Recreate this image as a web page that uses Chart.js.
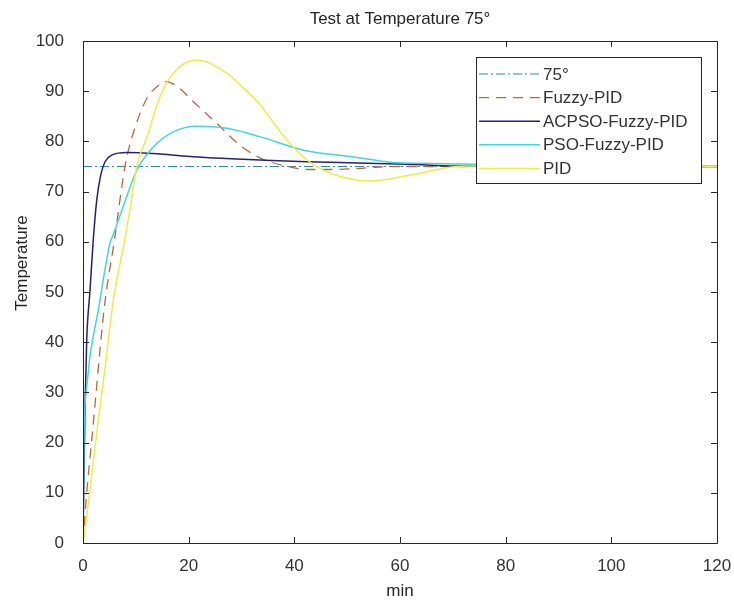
<!DOCTYPE html>
<html>
<head>
<meta charset="utf-8">
<script src="https://cdn.jsdelivr.net/npm/chart.js@4/dist/chart.umd.min.js"></script>
<style>
  html, body { margin: 0; padding: 0; background: #fff; }
  #wrap { width: 734px; height: 603px; }
</style>
</head>
<body>
<div id="wrap"><canvas id="chart" width="734" height="603"></canvas></div>
<script>
// --- DATA ---
const chartTitle = 'Test at Temperature 75°';
const xTitle = 'min';
const yTitle = 'Temperature';
const seriesNames = ['75°', 'Fuzzy-PID', 'ACPSO-Fuzzy-PID', 'PSO-Fuzzy-PID', 'PID'];

const refT = [0, 120];
const refY = [75, 75];

const fuzzyT = [0, 0.7, 1.6, 2.4, 3.2, 4.2, 5.9, 8, 9.9, 12.1, 14, 15.7, 17.5, 20.9, 25.3, 30.1, 34, 38, 42.7, 47, 52, 56, 60, 120];
const fuzzyY = [0, 10, 19.9, 29, 38.4, 48.4, 60, 75.3, 82.9, 88.6, 90.9, 91.9, 91.2, 87.9, 83.6, 78.9, 76.5, 75.2, 74.4, 74.4, 74.6, 74.9, 75, 75];

const acpsoT = [0, 0.06, 0.38, 0.7, 1.33, 1.95, 2.6, 3.3, 4.2, 5.5, 8.3, 14.6, 20.9, 27, 33.6, 42.4, 52, 63.2, 70, 120];
const acpsoY = [0, 4.6, 27, 40.4, 50.4, 60.5, 68.3, 73, 76, 77.3, 77.8, 77.5, 76.95, 76.6, 76.3, 75.95, 75.7, 75.4, 75.1, 75];

const psoT = [0, 0.2, 0.6, 1.0, 1.3, 2.0, 2.9, 4.0, 5.1, 5.75, 7.6, 10.2, 13.3, 17.1, 21.5, 27.2, 33.6, 42, 50.6, 58.8, 66, 72.7, 80, 120];
const psoY = [0, 22, 30, 34, 37, 41.5, 46.4, 53.5, 59.7, 61.5, 67, 74.3, 78.9, 81.9, 83, 82.6, 80.9, 78.2, 77, 75.8, 75.6, 75.5, 75.1, 75];

const pidT = [0, 0.7, 2.6, 4.2, 5.75, 8, 8.9, 10.2, 12.1, 14.6, 17.1, 21.5, 27.2, 30, 33.6, 36, 38.6, 42.4, 47, 54.4, 62, 70.8, 80, 120];
const pidY = [0, 5.2, 21.9, 35.1, 48.4, 61, 66.5, 75.2, 80.9, 88.9, 93.6, 96.2, 93.6, 91, 87.2, 83.8, 80.3, 76.3, 73.6, 72.1, 73.3, 75, 75.2, 75];

const xTicks = [0, 20, 40, 60, 80, 100, 120];
const yTicks = [0, 10, 20, 30, 40, 50, 60, 70, 80, 90, 100];

const zip = (t, y) => t.map((v, i) => ({ x: v, y: y[i] }));

const textColor = '#333333';
const axisColor = '#262626';
const fontFamily = "'Liberation Sans', Arial, sans-serif";

const datasets = [
    { label: seriesNames[0], data: zip(refT, refY), borderColor: '#2a8ea3', borderWidth: 1.2, borderDash: [9, 3, 2, 3], order: 5 },
    { label: seriesNames[1], data: zip(fuzzyT, fuzzyY), borderColor: '#b8693c', borderWidth: 1.3, borderDash: [10, 7], order: 4 },
    { label: seriesNames[2], data: zip(acpsoT, acpsoY), borderColor: '#24246e', borderWidth: 1.5, order: 3 },
    { label: seriesNames[3], data: zip(psoT, psoY), borderColor: '#3fd8dc', borderWidth: 1.5, order: 2 },
    { label: seriesNames[4], data: zip(pidT, pidY), borderColor: '#eded45', borderWidth: 1.5, order: 1 }
];
datasets.forEach(d => {
    d.pointRadius = 0;
    d.fill = false;
    d.cubicInterpolationMode = 'monotone';
});

// MATLAB style box with inward ticks, plus title and y label
const boxPlugin = {
    id: 'matlabBox',
    afterDatasetsDraw(chart) {
        const { ctx, chartArea: a, scales } = chart;
        const len = 6;
        ctx.save();
        ctx.strokeStyle = axisColor;
        ctx.lineWidth = 1;
        ctx.beginPath();
        ctx.rect(Math.round(a.left) + 0.5, Math.round(a.top) + 0.5, Math.round(a.right - a.left), Math.round(a.bottom - a.top));
        xTicks.forEach(v => {
            const px = Math.round(scales.x.getPixelForValue(v)) + 0.5;
            ctx.moveTo(px, a.bottom); ctx.lineTo(px, a.bottom - len);
            ctx.moveTo(px, a.top); ctx.lineTo(px, a.top + len);
        });
        yTicks.forEach(v => {
            const py = Math.round(scales.y.getPixelForValue(v)) + 0.5;
            ctx.moveTo(a.left, py); ctx.lineTo(a.left + len, py);
            ctx.moveTo(a.right, py); ctx.lineTo(a.right - len, py);
        });
        ctx.stroke();

        ctx.fillStyle = axisColor;
        ctx.textAlign = 'center';
        ctx.textBaseline = 'middle';
        ctx.font = '17px ' + fontFamily;
        ctx.fillText(chartTitle, (a.left + a.right) / 2, 19);
        ctx.translate(22, 263);
        ctx.rotate(-Math.PI / 2);
        ctx.fillText(yTitle, 0, 0);
        ctx.restore();
    }
};

// legend box inside the plot, top right
const legendPlugin = {
    id: 'insideLegend',
    afterDraw(chart) {
        const ctx = chart.ctx;
        const box = { x: 476, y: 57, w: 225, h: 126 };
        ctx.save();
        ctx.fillStyle = '#ffffff';
        ctx.fillRect(box.x, box.y, box.w, box.h);
        ctx.strokeStyle = axisColor;
        ctx.lineWidth = 1;
        ctx.strokeRect(box.x + 0.5, box.y + 0.5, box.w, box.h);
        ctx.font = '17px ' + fontFamily;
        ctx.textBaseline = 'middle';
        ctx.textAlign = 'left';
        chart.data.datasets.forEach((d, i) => {
            const y = box.y + 17 + i * 23.6;
            ctx.strokeStyle = d.borderColor;
            ctx.lineWidth = d.borderWidth;
            ctx.setLineDash(d.borderDash || []);
            ctx.beginPath();
            ctx.moveTo(box.x + 3, y);
            ctx.lineTo(box.x + 64, y);
            ctx.stroke();
            ctx.setLineDash([]);
            ctx.fillStyle = textColor;
            ctx.fillText(d.label, box.x + 67, y + 1);
        });
        ctx.restore();
    }
};

const ctx = document.getElementById('chart').getContext('2d');
new Chart(ctx, {
    type: 'line',
    data: { datasets },
    options: {
        responsive: false,
        animation: false,
        layout: { padding: { left: 0, right: 17, top: 41, bottom: 0 } },
        plugins: {
            legend: { display: false },
            tooltip: { enabled: false },
            title: { display: false }
        },
        scales: {
            x: {
                type: 'linear',
                min: 0, max: 120,
                afterBuildTicks: s => { s.ticks = xTicks.map(v => ({ value: v })); },
                afterFit: s => { s.height = 60; s.paddingLeft = 0; s.paddingRight = 0; },
                grid: { display: false },
                border: { display: false },
                ticks: { color: textColor, padding: 5, font: { family: fontFamily, size: 17 } },
                title: { display: true, text: xTitle, color: axisColor, padding: { top: 0, bottom: 1 }, font: { family: fontFamily, size: 17 } }
            },
            y: {
                type: 'linear',
                min: 0, max: 100,
                afterBuildTicks: s => { s.ticks = yTicks.map(v => ({ value: v })); },
                afterFit: s => { s.width = 83; s.paddingTop = 0; s.paddingBottom = 0; },
                grid: { display: false },
                border: { display: false },
                ticks: { color: textColor, padding: 11, font: { family: fontFamily, size: 17 } }
            }
        }
    },
    plugins: [boxPlugin, legendPlugin]
});
</script>
</body>
</html>
